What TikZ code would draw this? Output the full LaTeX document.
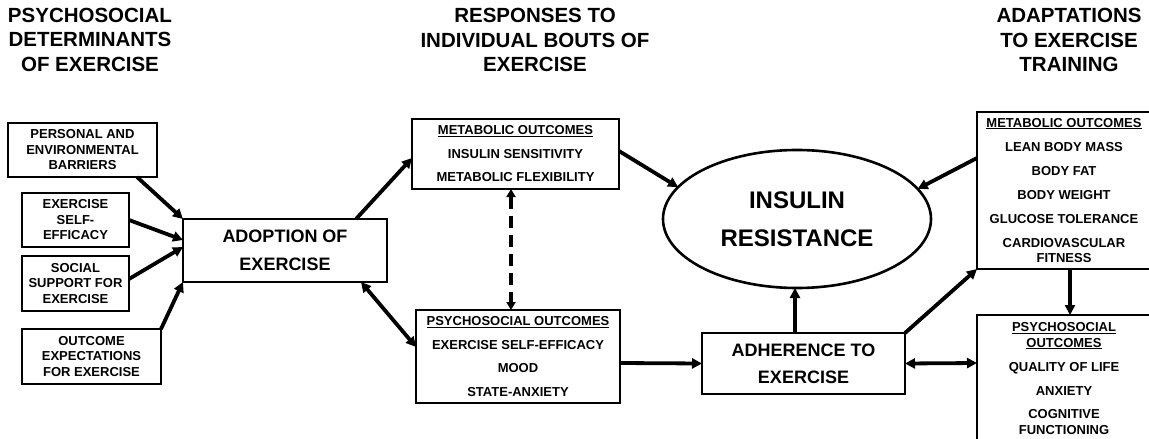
\documentclass[tikz,border=0pt]{standalone}
\usepackage{fontspec}
\setmainfont{Liberation Sans}
\usetikzlibrary{arrows.meta,shapes.geometric}
\newcommand{\myul}[1]{\setbox0\hbox{#1}\rlap{\rule[-2.2pt]{\wd0}{1.2pt}}\box0}
\tikzset{
  box/.style={draw,line width=1.8pt,inner sep=0pt,outer sep=0pt,align=center,
    font=\bfseries\fontsize{13}{15.5}\selectfont},
  bigbox/.style={box,font=\bfseries\fontsize{18}{28}\selectfont},
  head/.style={align=center,font=\bfseries\fontsize{20.5}{24.5}\selectfont},
  arr/.style={line width=3.8pt,-{Triangle[length=10pt,width=10pt]}},
  darr/.style={line width=3.8pt,{Triangle[length=10pt,width=10pt]}-{Triangle[length=10pt,width=10pt]}},
  dasharr/.style={line width=3.8pt,dash pattern=on 12pt off 7pt,{Triangle[length=8pt,width=9pt]}-{Triangle[length=8pt,width=9pt]}}
}
\begin{document}
\begin{tikzpicture}[x=1pt,y=-1pt]
\useasboundingbox[fill=white] (0,0) rectangle (1149,439);
\clip (0,0) rectangle (1149,439);

% headers
\node[head] (h1) at (90,39.5) {PSYCHOSOCIAL\\DETERMINANTS\\OF EXERCISE};
\node[head] (h2) at (535,40) {RESPONSES TO\\INDIVIDUAL BOUTS OF\\EXERCISE};
\node[head] (h3) at (1069,40) {ADAPTATIONS\\TO EXERCISE\\TRAINING};

% left boxes
\node[box,minimum width=149pt,minimum height=54pt] (pers) at (82.5,150) {PERSONAL AND\\ENVIRONMENTAL\\BARRIERS};
\node[box,minimum width=107pt,minimum height=54pt] (selfeff) at (75.5,220) {EXERCISE\\SELF-\\EFFICACY};
\node[box,minimum width=107pt,minimum height=55pt] (social) at (75.5,283.5) {SOCIAL\\SUPPORT FOR\\EXERCISE};
\node[box,minimum width=139pt,minimum height=55pt] (outcome) at (91.5,356.5) {OUTCOME\\EXPECTATIONS\\FOR EXERCISE};

\node[bigbox,minimum width=204pt,minimum height=63pt] (adopt) at (285,250.5) {ADOPTION OF\\EXERCISE};

% middle boxes
\node[box,minimum width=207pt,minimum height=70pt] (metamid) at (515.5,154)
  {\myul{METABOLIC OUTCOMES}\\[8pt]INSULIN SENSITIVITY\\[8pt]METABOLIC FLEXIBILITY};
\node[box,minimum width=204pt,minimum height=93pt] (psychmid) at (518,356.5)
  {\myul{PSYCHOSOCIAL OUTCOMES}\\[8pt]EXERCISE SELF-EFFICACY\\[8pt]MOOD\\[8pt]STATE-ANXIETY};

% insulin resistance
\node[draw,ellipse,line width=2.6pt,inner sep=0pt,outer sep=0pt,minimum width=268pt,minimum height=138pt,
  align=center,font=\bfseries\fontsize{24}{38}\selectfont] (ir) at (797,219) {INSULIN\\RESISTANCE};

\node[bigbox,minimum width=203pt,minimum height=61pt,font=\bfseries\fontsize{18}{27}\selectfont] (adher) at (803.5,363.5) {ADHERENCE TO\\EXERCISE};

% right boxes
\node[box,minimum width=174pt,minimum height=157pt] (metaR) at (1064,190.5)
  {\myul{METABOLIC OUTCOMES}\\[8.5pt]LEAN BODY MASS\\[8.5pt]BODY FAT\\[8.5pt]BODY WEIGHT\\[8.5pt]GLUCOSE TOLERANCE\\[8.5pt]CARDIOVASCULAR\\FITNESS};
\node[box,minimum width=174pt,minimum height=127pt] (psychR) at (1064,378.5)
  {\myul{PSYCHOSOCIAL}\\\myul{OUTCOMES}\\[8.5pt]QUALITY OF LIFE\\[8.5pt]ANXIETY\\[8pt]COGNITIVE\\FUNCTIONING};

% connectors
\draw[arr] ([xshift=-20pt]pers.south east) -- (adopt.north west);
\draw[arr] (selfeff.east) -- ([yshift=10.5pt]adopt.west);
\draw[arr] ([yshift=4.5pt]social.east) -- ([yshift=3.5pt]adopt.west);
\draw[arr] (outcome.north east) -- (adopt.south west);
\draw[arr] ([xshift=71pt]adopt.north) -- ([yshift=-4pt]metamid.west);
\draw[darr] ([xshift=76pt]adopt.south) -- ([yshift=9.5pt]psychmid.west);
\draw[dasharr] ([xshift=-4.5pt]metamid.south) -- ([xshift=-7pt]psychmid.north);
\draw[arr] ([yshift=3pt]metamid.east) -- (ir.165.4);
\draw[arr] ([yshift=-6.5pt]psychmid.east) -- (adher.west);
\draw[arr] ([yshift=32.5pt]metaR.west) -- (ir.14);
\draw[arr] ([xshift=-8.5pt]adher.north) -- ([xshift=-2pt]ir.south);
\draw[arr] (adher.north east) -- (metaR.south west);
\draw[darr] (adher.east) -- ([yshift=15.5pt]psychR.west);
\draw[arr] ([xshift=6pt]metaR.south) -- ([xshift=6pt]psychR.north);
\end{tikzpicture}
\end{document}
